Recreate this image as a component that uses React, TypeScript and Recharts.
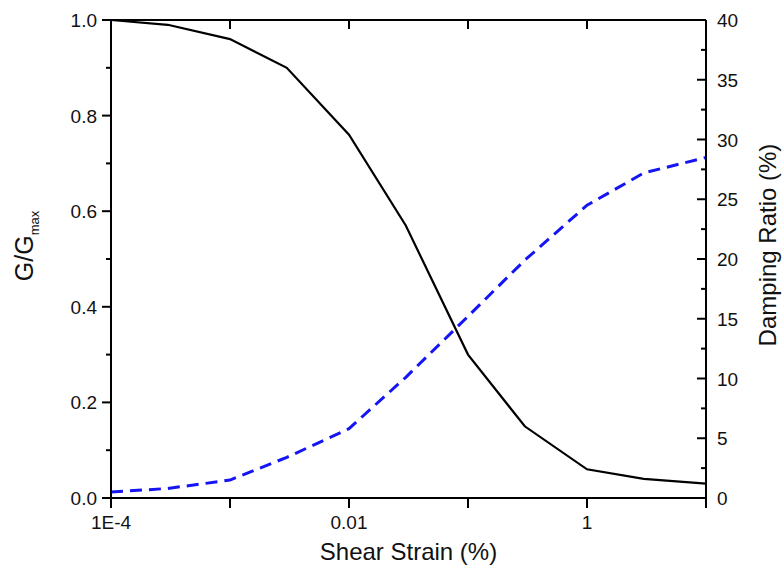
import React from 'react';
import { LineChart, Line, XAxis, YAxis } from 'recharts';

const strain = [0.0001, 0.0003, 0.001, 0.003, 0.01, 0.03, 0.1, 0.3, 1, 3, 10];
const modulusRatio = [1.0, 0.99, 0.96, 0.9, 0.76, 0.57, 0.3, 0.15, 0.06, 0.04, 0.03];
const dampingRatio = [0.5, 0.8, 1.5, 3.4, 5.8, 10.1, 15.2, 19.9, 24.5, 27.2, 28.5];

const xTicks = [0.0001, 0.001, 0.01, 0.1, 1, 10];
const xTickLabels = ['1E-4', '', '0.01', '', '1', ''];
const leftTicks = [0, 0.1, 0.2, 0.3, 0.4, 0.5, 0.6, 0.7, 0.8, 0.9, 1.0];
const rightTicks = [0, 2.5, 5, 7.5, 10, 12.5, 15, 17.5, 20, 22.5, 25, 27.5, 30, 32.5, 35, 37.5, 40];

const data = strain.map((s, i) => ({ x: s, g: modulusRatio[i], d: dampingRatio[i] }));

const CHART_W = 784;
const CHART_H = 572;
const TOP_M = 20;
const BOTTOM_H = 74;
const LEFT_W = 111;
const RIGHT_W = 78;
const PLOT_W = CHART_W - LEFT_W - RIGHT_W;
const PLOT_H = CHART_H - TOP_M - BOTTOM_H;

const FONT = "'Liberation Sans', Arial, Helvetica, sans-serif";
const TXT = '#111';

const BottomTick = (props: any) => {
  const { x, y, payload } = props;
  const i = xTicks.findIndex((t) => Math.abs(Math.log10(t) - Math.log10(payload.value)) < 1e-6);
  const label = i >= 0 ? xTickLabels[i] : '';
  const isEdge = i === 0 || i === xTicks.length - 1;
  const topY = Number(y) - PLOT_H;
  return (
    <g>
      <path d={`M${x},${y}L${x},${Number(y) + 10}`} stroke="#000" strokeWidth={2} fill="none" />
      {!isEdge ? (
        <path d={`M${x},${topY}L${x},${topY + 9}`} stroke="#000" strokeWidth={2} fill="none" />
      ) : null}
      {label ? (
        <text x={x} y={Number(y) + 31} textAnchor="middle" fontSize={19} fontFamily={FONT} fill={TXT}>
          {label}
        </text>
      ) : null}
    </g>
  );
};

const LeftTick = (props: any) => {
  const { x, y, payload } = props;
  const major = Math.round(payload.value * 10) % 2 === 0;
  return (
    <g>
      <path d={`M${Number(x) - (major ? 9 : 5)},${y}L${x},${y}`} stroke="#000" strokeWidth={2} fill="none" />
      {major ? (
        <text x={Number(x) - 14} y={Number(y) + 7} textAnchor="end" fontSize={19} fontFamily={FONT} fill={TXT}>
          {payload.value.toFixed(1)}
        </text>
      ) : null}
    </g>
  );
};

const RightTick = (props: any) => {
  const { x, y, payload } = props;
  const major = Math.round(payload.value * 2) % 10 === 0;
  const isTop = Number(payload.value) >= 39.99;
  return (
    <g>
      {isTop ? (
        <path d={`M${Number(x) - PLOT_W - 1},${y}L${x},${y}`} stroke="#000" strokeWidth={2} fill="none" />
      ) : null}
      <path d={`M${Number(x) - (major ? 9 : 5)},${y}L${x},${y}`} stroke="#000" strokeWidth={2} fill="none" />
      {major ? (
        <text x={Number(x) + 11} y={Number(y) + 7} textAnchor="start" fontSize={19} fontFamily={FONT} fill={TXT}>
          {String(payload.value)}
        </text>
      ) : null}
    </g>
  );
};

const LeftTitle = (props: any) => {
  const vb = props.viewBox || { x: 0, y: TOP_M, width: LEFT_W, height: PLOT_H };
  const cx = vb.x + 33;
  const cy = vb.y + vb.height / 2 - 13;
  return (
    <text
      x={cx}
      y={cy}
      transform={`rotate(-90 ${cx} ${cy})`}
      textAnchor="middle"
      fontSize={25}
      fontFamily={FONT}
      fill={TXT}
    >
      <tspan>G/G</tspan>
      <tspan fontSize={13} dy={6}>max</tspan>
    </text>
  );
};

const RightTitle = (props: any) => {
  const vb = props.viewBox || { x: LEFT_W + PLOT_W, y: TOP_M, width: RIGHT_W, height: PLOT_H };
  const cx = vb.x + 70;
  const cy = vb.y + vb.height / 2 - 14;
  return (
    <text
      x={cx}
      y={cy}
      transform={`rotate(-90 ${cx} ${cy})`}
      textAnchor="middle"
      fontSize={24}
      fontFamily={FONT}
      fill={TXT}
    >
      Damping Ratio (%)
    </text>
  );
};

const BottomTitle = (props: any) => {
  const vb = props.viewBox || { x: LEFT_W, y: TOP_M + PLOT_H, width: PLOT_W, height: BOTTOM_H };
  return (
    <text
      x={vb.x + vb.width / 2}
      y={vb.y + 62}
      textAnchor="middle"
      fontSize={24}
      fontFamily={FONT}
      fill={TXT}
    >
      Shear Strain (%)
    </text>
  );
};

export default function App() {
  return (
    <div style={{ position: 'absolute', left: 0, top: 0, background: '#fff' }}>
      <LineChart width={CHART_W} height={CHART_H} data={data} margin={{ top: TOP_M, right: 0, bottom: 0, left: 0 }}>
        <XAxis
          xAxisId="bottom"
          dataKey="x"
          type="number"
          scale="log"
          domain={[0.0001, 10]}
          allowDataOverflow
          ticks={xTicks}
          interval={0}
          height={BOTTOM_H}
          tickSize={0}
          tickMargin={0}
          tickLine={false}
          tick={(p: any) => <BottomTick {...p} />}
          axisLine={{ stroke: '#000', strokeWidth: 2 }}
          label={{ content: (p: any) => <BottomTitle {...p} /> }}
        />
        <YAxis
          yAxisId="left"
          type="number"
          domain={[0, 1]}
          ticks={leftTicks}
          interval={0}
          width={LEFT_W}
          tickSize={0}
          tickMargin={0}
          tickLine={false}
          tick={(p: any) => <LeftTick {...p} />}
          axisLine={{ stroke: '#000', strokeWidth: 2 }}
          label={{ content: (p: any) => <LeftTitle {...p} /> }}
        />
        <YAxis
          yAxisId="right"
          orientation="right"
          type="number"
          domain={[0, 40]}
          ticks={rightTicks}
          interval={0}
          width={RIGHT_W}
          tickSize={0}
          tickMargin={0}
          tickLine={false}
          tick={(p: any) => <RightTick {...p} />}
          axisLine={{ stroke: '#000', strokeWidth: 2 }}
          label={{ content: (p: any) => <RightTitle {...p} /> }}
        />
        <Line
          xAxisId="bottom"
          yAxisId="left"
          type="linear"
          dataKey="g"
          stroke="#000"
          strokeWidth={2.2}
          dot={false}
          isAnimationActive={false}
        />
        <Line
          xAxisId="bottom"
          yAxisId="right"
          type="linear"
          dataKey="d"
          stroke="#1414f5"
          strokeWidth={3}
          strokeDasharray="12 7"
          dot={false}
          isAnimationActive={false}
        />
      </LineChart>
    </div>
  );
}
